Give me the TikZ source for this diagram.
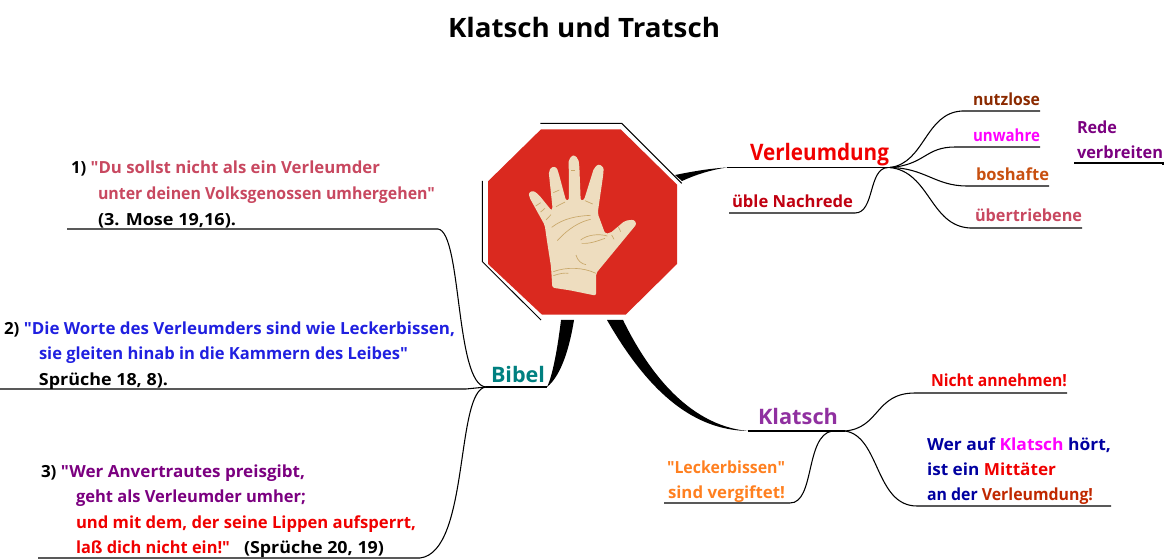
\documentclass[tikz,border=0pt]{standalone}
\usepackage{fontspec}
\usepackage{graphicx}
\newfontfamily\comicf{Open Sans}
\definecolor{stopred}{HTML}{DA291F}
\definecolor{skin}{HTML}{EEDDBF}
\definecolor{crease}{HTML}{C9A86A}
\definecolor{cRed}{HTML}{F00000}
\definecolor{cBrown}{HTML}{8B2A00}
\definecolor{cMag}{HTML}{FF00FF}
\definecolor{cPurp}{HTML}{7B0080}
\definecolor{cOrg}{HTML}{C85010}
\definecolor{cRose}{HTML}{C84860}
\definecolor{cDkRed}{HTML}{C00010}
\definecolor{cTeal}{HTML}{008080}
\definecolor{cKl}{HTML}{9030A0}
\definecolor{cNavy}{HTML}{0000A0}
\definecolor{cVer}{HTML}{C02800}
\definecolor{cLek}{HTML}{FF8020}
\definecolor{cBlue}{HTML}{2020E0}
\newcommand{\fitw}[2]{\resizebox{#1\dimexpr0.75pt\relax}{\height}{#2}}
\tikzset{
  x=0.75pt,y=-0.75pt,
  lab/.style={anchor=base west,inner sep=0pt,outer sep=0pt,yshift=-0.9pt,font=\comicf\bfseries\fontsize{12.5pt}{13pt}\selectfont},
  big/.style={lab,font=\comicf\bfseries\fontsize{17pt}{18pt}\selectfont},
  branch/.style={draw=black,line width=0.8pt},
  taper/.style={fill=black,draw=none},
  rim/.style={draw=black,line width=0.7pt},
  creasel/.style={draw=crease,line width=0.5pt}
}
\begin{document}
\begin{tikzpicture}
\useasboundingbox (0,0) rectangle (1164,559);
% stop sign
\begin{scope}[shift={(470,110)},x=0.25pt,y=-0.25pt]
  \fill[stopred] (213,58)--(452,58)--(621,224)--(621,462)--(467,614)--(216,614)--(54,462)--(54,214)--cycle;
  \draw[rim] (211,40)--(455,40)--(635,220);
  \draw[rim] (37,213)--(37,455)--(213,630);
  \fill[skin,rounded corners=1.6pt] (247,533)--(243,470)--(232,400)--(224,345)--(178,262)--(176,248)--(190,242)--(206,254)--(245,302)--(248,298)--(236,184)--(246,170)--(260,172)--(266,190)--(288,272)--(297,270)--(296,148)--(310,134)--(325,146)--(328,168)--(332,272)--(342,270)--(372,174)--(386,162)--(401,172)--(400,192)--(383,310)--(405,370)--(420,370)--(465,332)--(492,329)--(500,342)--(378,490)--(378,557)--(300,541)--cycle;
  \draw[creasel] (245,352) .. controls (280,325) and (320,318) .. (362,316);
  \draw[creasel] (262,392) .. controls (295,355) and (330,335) .. (362,328);
  \draw[creasel] (332,390) .. controls (350,375) and (385,370) .. (412,378);
  \draw[creasel] (335,400) .. controls (360,402) and (385,392) .. (405,385);
  \draw[creasel] (318,435) .. controls (322,452) and (335,462) .. (348,464);
  \draw[creasel] (250,485) .. controls (290,470) and (340,472) .. (378,490);
  \draw[creasel] (250,497) .. controls (270,490) and (285,488) .. (295,490);
  \draw[creasel] (258,290) -- (285,276);
  \draw[creasel] (250,248) -- (268,240);
  \draw[creasel] (197,288) -- (212,278);
  \draw[creasel] (212,306) -- (225,295);
  \draw[creasel] (228,330) -- (243,314);
  \draw[creasel] (303,180) -- (316,180);
  \draw[creasel] (345,272) -- (368,282);
  \draw[creasel] (445,350) -- (452,365);
  \draw[creasel] (425,375) -- (432,388);
\end{scope}
% title
\node[lab,font=\comicf\bfseries\fontsize{20pt}{22pt}\selectfont] (title) at (448,36) {\fitw{272}{Klatsch und Tratsch}};
% Verleumdung
\coordinate (vA) at (727,167.5);
\coordinate (vJ) at (890,167.5);
\fill[taper] (675,175) .. controls (695,171) and (710,168.5) .. (vA) -- (vA) .. controls (710,170) and (695,175) .. (682,181) -- cycle;
\draw[branch] (vA) -- (vJ);
\node[big] (verl) at (750,159) {\textcolor{cRed}{\fitw{139}{Verleumdung}}};
\coordinate (n1) at (962,111); \coordinate (n2) at (1040,111);
\coordinate (u1) at (955,147); \coordinate (u2) at (1040,147);
\coordinate (b1) at (967,186); \coordinate (b2) at (1049,186);
\coordinate (t1) at (970,228); \coordinate (t2) at (1082,228);
\coordinate (r1) at (1074,163); \coordinate (r2) at (1163,163);
\coordinate (ub1) at (729,213); \coordinate (ub2) at (855,213);
\coordinate (ubJ) at (888,167.5);
\draw[branch] (vJ) .. controls (925,163) and (925,113) .. (n1) -- (n2);
\draw[branch] (vJ) .. controls (925,165) and (925,147) .. (u1) -- (u2);
\draw[branch] (vJ) .. controls (925,168) and (935,186) .. (b1) -- (b2);
\draw[branch] (vJ) .. controls (930,172) and (930,226) .. (t1) -- (t2);
\draw[branch] (ub1) -- (ub2) .. controls (875,213) and (868,168) .. (ubJ);
\draw[branch] (r1) -- (r2) -- ++(0,2);
\node[lab] (nutz) at (973,104) {\textcolor{cBrown}{\fitw{67}{nutzlose}}};
\node[lab] (unw) at (973,140) {\textcolor{cMag}{\fitw{67}{unwahre}}};
\node[lab] (bos) at (976,179) {\textcolor{cOrg}{\fitw{73}{boshafte}}};
\node[lab] (ueb) at (975,220) {\textcolor{cRose}{\fitw{107}{übertriebene}}};
\node[lab] (rede) at (1077,132) {\textcolor{cPurp}{\fitw{40}{Rede}}};
\node[lab] (verb) at (1077,157) {\textcolor{cPurp}{\fitw{86}{verbreiten}}};
\node[lab] (uebl) at (732,206) {\textcolor{cDkRed}{\fitw{121}{üble Nachrede}}};
% Bibel
\coordinate (bJ) at (486,387);
\coordinate (bE) at (547,387);
\coordinate (l1a) at (67,229); \coordinate (l1b) at (438,229);
\coordinate (l2a) at (0,389); \coordinate (l2b) at (466,389);
\coordinate (l3a) at (38,558); \coordinate (l3b) at (420,558);
\fill[taper] (561,320) -- (574,320) .. controls (570,345) and (562,375) .. (bE) .. controls (553,375) and (558,345) .. (561,320) -- cycle;
\draw[branch] (bJ) -- (bE);
\draw[branch] (l1a) -- (l1b) .. controls (462,232) and (455,385) .. (bJ);
\draw[branch] (l2a) -- (l2b) -- (bJ);
\draw[branch] (l3a) -- (l3b) .. controls (470,552) and (455,390) .. (bJ);
\node[big,font=\comicf\bfseries\fontsize{16pt}{18pt}\selectfont] (bib) at (491,381) {\textcolor{cTeal}{\fitw{54}{Bibel}}};
\node[lab] (t1a) at (71,172) {\fitw{309}{1) \textcolor{cRose}{"Du sollst nicht als ein Verleumder}}};
\node[lab] (t1b) at (98,198) {\textcolor{cRose}{\fitw{337}{unter deinen Volksgenossen umhergehen"}}};
\node[lab] (t1c) at (98,224) {\fitw{138}{(3. Mose 19,16).}};
\node[lab] (t2a) at (4,333) {\fitw{451}{2) \textcolor{cBlue}{"Die Worte des Verleumders sind wie Leckerbissen,}}};
\node[lab] (t2b) at (39,358) {\textcolor{cBlue}{\fitw{369}{sie gleiten hinab in die Kammern des Leibes"}}};
\node[lab] (t2c) at (39,384) {\fitw{129}{Sprüche 18, 8).}};
\node[lab] (t3a) at (41,476) {\fitw{264}{3) \textcolor{cPurp}{"Wer Anvertrautes preisgibt,}}};
\node[lab] (t3b) at (76,501) {\textcolor{cPurp}{\fitw{230}{geht als Verleumder umher;}}};
\node[lab] (t3c) at (76,527) {\textcolor{cRed}{\fitw{340}{und mit dem, der seine Lippen aufsperrt,}}};
\node[lab] (t3d) at (76,552) {\textcolor{cRed}{\fitw{154}{laß dich nicht ein!"}}};
\node[lab] (t3e) at (244,552) {\fitw{140}{(Sprüche 20, 19)}};
% Klatsch
\coordinate (kA) at (748,431);
\coordinate (kJ) at (845,431);
\fill[taper] (607,320) -- (623,320) .. controls (645,365) and (685,425) .. (kA) .. controls (695,430) and (650,395) .. (607,320) -- cycle;
\draw[branch] (kA) -- (kJ);
\node[big,font=\comicf\bfseries\fontsize{16pt}{18pt}\selectfont] (kla) at (758,423) {\textcolor{cKl}{\fitw{80}{Klatsch}}};
\coordinate (na1) at (915,393); \coordinate (na2) at (1067,393);
\coordinate (ml1) at (917,506); \coordinate (ml2) at (1111,506);
\coordinate (le1) at (664,503); \coordinate (le2) at (790,503);
\coordinate (leJ) at (832,431);
\draw[branch] (kJ) .. controls (880,428) and (875,393) .. (na1) -- (na2);
\draw[branch] (kJ) .. controls (880,436) and (875,506) .. (ml1) -- (ml2);
\draw[branch] (le1) -- (le2) .. controls (815,503) and (805,436) .. (leJ);
\node[lab] (nan) at (931,385) {\textcolor{cRed}{\fitw{136}{Nicht annehmen!}}};
\node[lab] (w1) at (927,449) {\fitw{184}{\textcolor{cNavy}{Wer auf}\ \textcolor{cMag}{Klatsch}\ \textcolor{cNavy}{hört,}}};
\node[lab] (w2) at (927,474) {\fitw{129}{\textcolor{cNavy}{ist ein}\ \textcolor{cRed}{Mittäter}}};
\node[lab] (w3) at (927,499) {\fitw{166}{\textcolor{cNavy}{an der}\ \textcolor{cVer}{Verleumdung!}}};
\node[lab] (lek1) at (667,472) {\textcolor{cLek}{\fitw{118}{"Leckerbissen"}}};
\node[lab] (lek2) at (668,497) {\textcolor{cLek}{\fitw{117}{sind vergiftet!}}};
\end{tikzpicture}
\end{document}
